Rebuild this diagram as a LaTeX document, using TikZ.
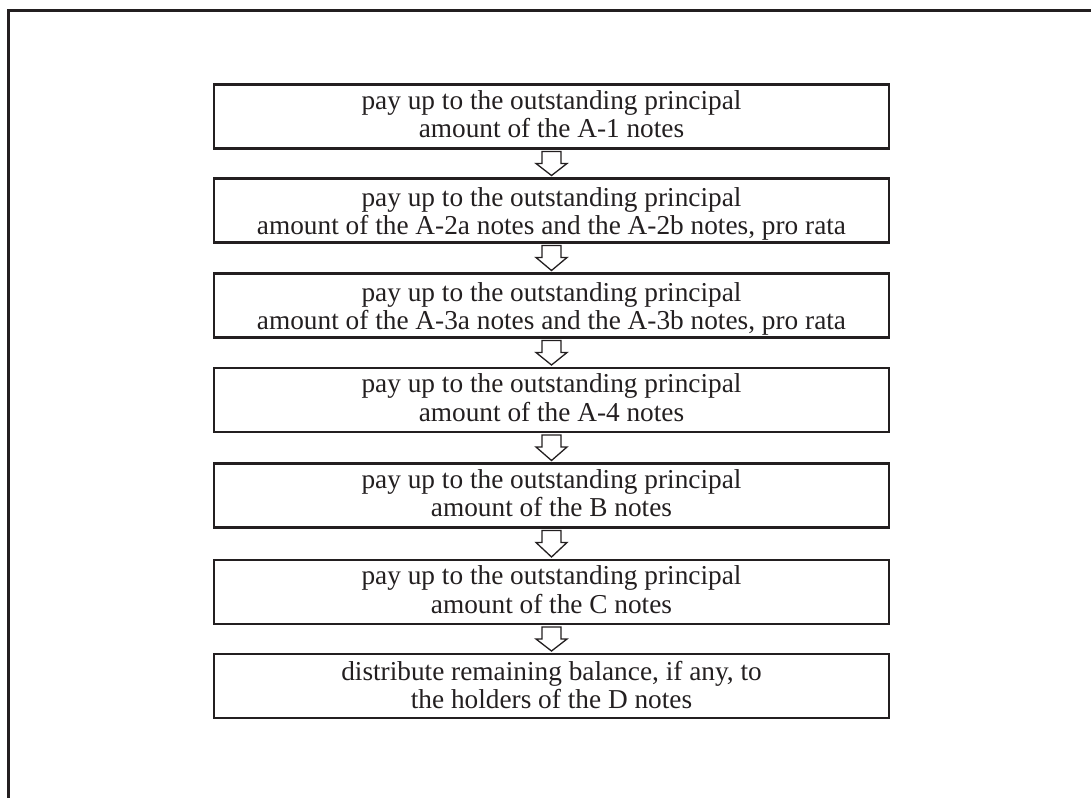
\documentclass[tikz,border=0pt]{standalone}
\usepackage{fontspec}
\setmainfont{Liberation Serif}
\usetikzlibrary{calc}
\definecolor{ink}{HTML}{231F20}
\tikzset{
  stepbox/.style={draw=ink, line width=2.2pt, minimum width=675pt, minimum height=64pt, inner sep=0pt, outer sep=0pt},
  steptext/.style={anchor=north, align=center, inner sep=0pt, font=\fontsize{27.3}{26.8}\selectfont, text=ink},
  flowarrow/.style={draw=ink, line width=1.3pt, fill=white, line join=miter},
  frameline/.style={draw=ink, line width=3pt}
}
\newcommand\flowblock[4]{%
  \node[stepbox] (#1) at (551.5,-#2) {};
  \node[steptext] (#1t) at ([yshift={32.16pt-#3pt}]#1.center) {#4};
}
\newcommand\flowlink[2]{%
  \draw[flowarrow] ($(#1.south)+(-9.5,-3)$) -- ($(#1.south)+(9.5,-3)$) -- ($(#1.south)+(9.5,-15)$)
    -- ($(#1.south)+(15.5,-15)$) -- ($(#2.north)+(0,3)$) -- ($(#1.south)+(-15.5,-15)$)
    -- ($(#1.south)+(-9.5,-15)$) -- cycle;
}
\begin{document}
\begin{tikzpicture}[x=1pt,y=1pt]
\useasboundingbox (0,0) rectangle (1091,-798);
\coordinate (fTL) at (8,-10.5);
\coordinate (fTR) at (1091,-10.5);
\coordinate (fBL) at (8,-798);
\draw[frameline] (fTR) -- ([xshift=-1.5pt]fTL);
\draw[frameline] ([yshift=1.5pt]fTL) -- (fBL);

\flowblock{b1}{116.5}{6}{\strut pay up to the outstanding principal\\ amount of the A-1 notes\strut}
\flowblock{b2}{210.5}{9}{\strut pay up to the outstanding principal\\ amount of the A-2a notes and the A-2b notes, pro rata\strut}
\flowblock{b3}{305.5}{9}{\strut pay up to the outstanding principal\\ amount of the A-3a notes and the A-3b notes, pro rata\strut}
\flowblock{b4}{400}{6}{\strut pay up to the outstanding principal\\ amount of the A-4 notes\strut}
\flowblock{b5}{495.5}{6}{\strut pay up to the outstanding principal\\ amount of the B notes\strut}
\flowblock{b6}{592}{6}{\strut pay up to the outstanding principal\\ amount of the C notes\strut}
\flowblock{b7}{686}{7}{\strut distribute remaining balance, if any, to\\ the holders of the D notes\strut}

\flowlink{b1}{b2}
\flowlink{b2}{b3}
\flowlink{b3}{b4}
\flowlink{b4}{b5}
\flowlink{b5}{b6}
\flowlink{b6}{b7}
\end{tikzpicture}
\end{document}
